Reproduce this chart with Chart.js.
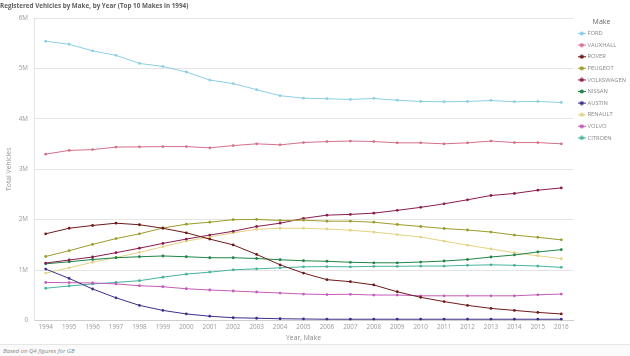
<!DOCTYPE html>
<html>
<head>
<meta charset="utf-8">
<script src="https://cdn.jsdelivr.net/npm/chart.js@4"></script>
<style>
  html, body { margin: 0; padding: 0; background: #fff; }
  #wrap { position: relative; width: 630px; height: 356px; overflow: hidden; font-family: "Open Sans", sans-serif; }
  #c { position: absolute; left: 0; top: 0; }
  #footer { position: absolute; left: 0; top: 344px; width: 630px; height: 12px; background: #fafafa; border-top: 1px solid #e6e6e6; box-sizing: border-box; }
  #footer span { position: absolute; left: 3px; top: 1px; font-size: 6px; font-style: italic; color: #888; line-height: 10px; }
</style>
</head>
<body>
<div id="wrap">
  <canvas id="c" width="630" height="344"></canvas>
  <div id="footer"><span>Based on Q4 figures for GB</span></div>
</div>
<script>
const titleText = "Registered Vehicles by Make, by Year (Top 10 Makes in 1994)";
const years = ["1994","1995","1996","1997","1998","1999","2000","2001","2002","2003","2004","2005","2006","2007","2008","2009","2010","2011","2012","2013","2014","2015","2016"];
const yTickLabels = { 0: "0", 1000000: "1M", 2000000: "2M", 3000000: "3M", 4000000: "4M", 5000000: "5M", 6000000: "6M" };
const makes = ["FORD","VAUXHALL","ROVER","PEUGEOT","VOLKSWAGEN","NISSAN","AUSTIN","RENAULT","VOLVO","CITROEN"];
const colors = ["#8ccfe6","#d4708a","#6e1a1a","#9d9b2a","#8a1c4e","#1f8548","#3c3088","#e3d385","#c45cb8","#45b39d"];

// values in millions
const ford =       [5.54,5.48,5.35,5.26,5.10,5.04,4.93,4.77,4.70,4.58,4.46,4.41,4.40,4.385,4.405,4.37,4.345,4.34,4.345,4.365,4.34,4.345,4.325];
const vauxhall =   [3.30,3.375,3.39,3.44,3.445,3.45,3.45,3.425,3.47,3.505,3.485,3.53,3.55,3.56,3.55,3.525,3.525,3.505,3.525,3.56,3.53,3.53,3.505];
const rover =      [1.72,1.83,1.885,1.93,1.90,1.83,1.74,1.615,1.50,1.31,1.105,0.94,0.81,0.77,0.705,0.57,0.46,0.375,0.30,0.24,0.20,0.16,0.13];
const peugeot =    [1.27,1.385,1.51,1.625,1.72,1.835,1.91,1.95,2.00,2.005,1.985,1.99,1.97,1.97,1.95,1.905,1.865,1.825,1.795,1.755,1.695,1.65,1.60];
const volkswagen = [1.14,1.20,1.26,1.345,1.435,1.53,1.615,1.695,1.77,1.865,1.93,2.025,2.09,2.105,2.13,2.185,2.245,2.315,2.395,2.48,2.52,2.585,2.63];
const nissan =     [1.125,1.165,1.21,1.245,1.265,1.28,1.265,1.245,1.245,1.23,1.205,1.185,1.175,1.155,1.145,1.145,1.16,1.18,1.21,1.26,1.30,1.36,1.405];
const austin =     [1.02,0.835,0.625,0.45,0.30,0.20,0.13,0.085,0.055,0.045,0.035,0.03,0.025,0.025,0.025,0.025,0.025,0.025,0.025,0.025,0.025,0.025,0.025];
const renault =    [0.94,1.045,1.155,1.25,1.35,1.465,1.575,1.655,1.74,1.81,1.83,1.83,1.815,1.79,1.755,1.705,1.655,1.575,1.495,1.42,1.345,1.285,1.225];
const volvo =      [0.755,0.75,0.745,0.725,0.69,0.67,0.63,0.605,0.585,0.565,0.545,0.525,0.515,0.52,0.505,0.505,0.49,0.49,0.49,0.49,0.49,0.51,0.525];
const citroen =    [0.64,0.685,0.725,0.755,0.79,0.86,0.92,0.96,1.005,1.025,1.045,1.065,1.07,1.065,1.075,1.075,1.08,1.08,1.095,1.105,1.095,1.08,1.055];

const series = [ford, vauxhall, rover, peugeot, volkswagen, nissan, austin, renault, volvo, citroen];

function legendMarker(color) {
  const cv = document.createElement('canvas');
  cv.width = 8; cv.height = 5;
  const g = cv.getContext('2d');
  g.strokeStyle = color; g.lineWidth = 1;
  g.beginPath(); g.moveTo(0, 2.5); g.lineTo(8, 2.5); g.stroke();
  g.fillStyle = color;
  g.beginPath(); g.arc(4, 2.5, 2.1, 0, Math.PI * 2); g.fill();
  return cv;
}

const datasets = makes.map((m, i) => ({
  label: m,
  data: series[i].map(v => v * 1000000),
  borderColor: colors[i],
  backgroundColor: colors[i],
  borderWidth: 1,
  pointRadius: 1.4,
  pointHoverRadius: 2,
  pointBorderWidth: 0,
  pointStyle: 'circle',
  tension: 0,
  fill: false
}));

const markers = colors.map(c => legendMarker(c));

const legendWidthPlugin = {
  id: 'legendWidth',
  beforeInit(chart) {
    const origFit = chart.legend.fit;
    chart.legend.fit = function () {
      origFit.bind(chart.legend)();
      this.width = 57;
    };
  }
};

const FONT = "'Open Sans', sans-serif";

new Chart(document.getElementById('c'), {
  type: 'line',
  data: { labels: years, datasets },
  plugins: [legendWidthPlugin],
  options: {
    responsive: false,
    animation: false,
    devicePixelRatio: 1,
    layout: { padding: { left: 0, right: 0, top: 0, bottom: 0 } },
    plugins: {
      title: {
        display: true,
        text: titleText,
        align: 'start',
        color: '#606060',
        font: { family: FONT, size: 6.3, weight: 'bold' },
        padding: { top: 2.5, bottom: 8 }
      },
      legend: {
        position: 'right',
        align: 'start',
        title: {
          display: true,
          text: 'Make',
          color: '#666',
          font: { family: FONT, size: 7 },
          padding: { top: 18, bottom: -1.6 }
        },
        labels: {
          usePointStyle: true,
          color: '#888',
          font: { family: FONT, size: 5.8 },
          padding: 5.8,
          boxWidth: 8,
          boxHeight: 5,
          generateLabels(chart) {
            return chart.data.datasets.map((ds, i) => ({
              text: ds.label,
              fillStyle: ds.borderColor,
              strokeStyle: ds.borderColor,
              lineWidth: 0,
              pointStyle: markers[i],
              hidden: false,
              datasetIndex: i,
              fontColor: '#888'
            }));
          }
        }
      },
      tooltip: { enabled: false }
    },
    scales: {
      x: {
        offset: true,
        grid: { display: false, drawTicks: false },
        border: { display: true, color: '#cfcfcf' },
        ticks: { color: '#999', font: { family: FONT, size: 6.3 }, padding: 3, maxRotation: 0, autoSkip: false },
        title: { display: true, text: 'Year, Make', color: '#888', font: { family: FONT, size: 6.8 }, padding: { top: 0, bottom: 2 } },
        afterFit(s) { s.height = 23.5; }
      },
      y: {
        min: 0,
        max: 6000000,
        grid: { color: '#e4e4e4', drawTicks: false, lineWidth: 1 },
        border: { display: true, color: '#e4e4e4' },
        ticks: {
          stepSize: 1000000,
          color: '#999',
          font: { family: FONT, size: 6.3 },
          padding: 6,
          callback: v => yTickLabels[v] !== undefined ? yTickLabels[v] : ''
        },
        title: { display: true, text: 'Total Vehicles', color: '#999', font: { family: FONT, size: 6.8 }, padding: { top: 5, bottom: 0 } },
        afterFit(s) { s.width = 34; }
      }
    }
  }
});
</script>
</body>
</html>
